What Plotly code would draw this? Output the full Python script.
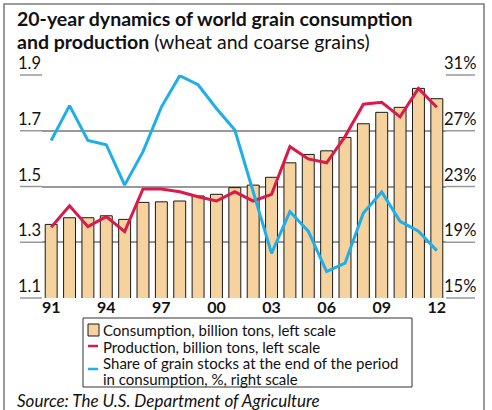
import plotly.graph_objects as go

years = list(range(1991, 2013))
consumption = [1.364, 1.388, 1.388, 1.395, 1.382, 1.443, 1.445, 1.448, 1.466, 1.472, 1.496,
               1.505, 1.533, 1.585, 1.615, 1.628, 1.676, 1.725, 1.766, 1.784, 1.852, 1.815]
production = [1.354, 1.431, 1.356, 1.392, 1.338, 1.491, 1.491, 1.481, 1.463, 1.448, 1.481,
              1.448, 1.472, 1.643, 1.599, 1.585, 1.679, 1.795, 1.802, 1.750, 1.852, 1.784]
stock_share = [26.3, 28.8, 26.3, 26.0, 23.1, 25.5, 28.7, 30.95, 30.3, 28.6, 27.05,
               22.7, 18.2, 21.2, 19.8, 16.9, 17.5, 21.1, 22.6, 20.5, 19.8, 18.4]
x_tickvals = [1991, 1994, 1997, 2000, 2003, 2006, 2009, 2012]
x_ticktext = ["91", "94", "97", "00", "03", "06", "09", "12"]
left_ticks = [1.1, 1.3, 1.5, 1.7, 1.9]
left_text = ["1.1", "1.3", "1.5", "1.7", "1.9"]
right_ticks = [15, 19, 23, 27, 31]
right_text = ["15%", "19%", "23%", "27%", "31%"]
legend_labels = ["Consumption, billion tons, left scale",
                 "Production, billion tons, left scale",
                 "Share of grain stocks at the end of the period",
                 "in consumption, %, right scale"]

W, H = 492, 410
L, R, T, B = 42, 46, 75, 112
pw = W - L - R
ph = H - T - B
Y_RANGE = [1.1, 1.9]

def px(x):
    return (x - L) / pw

def py(y):
    return (H - B - y) / ph

FONT = "Lato"
BAR_COLOR = "#F5D29E"
RED = "#D81B4A"
BLUE = "#1EAEEA"
GRID = "#999999"

fig = go.Figure()
fig.add_trace(go.Bar(
    x=years, y=consumption, name=legend_labels[0],
    marker=dict(color=BAR_COLOR, line=dict(color="#1a1a1a", width=1)),
))
fig.add_trace(go.Scatter(
    x=years, y=production, name=legend_labels[1],
    mode="lines", line=dict(color=RED, width=3),
))
fig.add_trace(go.Scatter(
    x=years, y=stock_share, yaxis="y2", name=legend_labels[2] + " " + legend_labels[3],
    mode="lines", line=dict(color=BLUE, width=3),
))

shapes = []
# gridline extensions outside the plot area, under the tick labels
for v in left_ticks:
    yp = round((v - Y_RANGE[0]) / (Y_RANGE[1] - Y_RANGE[0]), 4)
    for a, b in [(20, L), (W - R, 475)]:
        shapes.append(dict(type="line", xref="paper", yref="paper", x0=px(a), x1=px(b), y0=yp, y1=yp,
                           line=dict(color=GRID, width=1.5), layer="above"))
# outer frame
shapes.append(dict(type="rect", xref="paper", yref="paper", x0=px(4), x1=px(484), y0=py(416), y1=py(4),
                   line=dict(color="#7a7a7a", width=1.5), layer="above"))
# legend box
shapes.append(dict(type="rect", xref="paper", yref="paper", x0=px(83), x1=px(412), y0=py(387), y1=py(318),
                   line=dict(color="#333333", width=1), fillcolor="white", layer="above"))
# legend swatches
shapes.append(dict(type="rect", xref="paper", yref="paper", x0=px(88), x1=px(99), y0=py(336), y1=py(324),
                   line=dict(color="#1a1a1a", width=1), fillcolor=BAR_COLOR, layer="above"))
shapes.append(dict(type="line", xref="paper", yref="paper", x0=px(88), x1=px(98), y0=py(346), y1=py(346),
                   line=dict(color=RED, width=2.5), layer="above"))
shapes.append(dict(type="line", xref="paper", yref="paper", x0=px(88), x1=px(98), y0=py(369), y1=py(369),
                   line=dict(color=BLUE, width=2.5), layer="above"))

annotations = [
    dict(text="<b>20-year dynamics of world grain consumption</b>",
         xref="paper", yref="paper", x=px(15), y=py(19), xanchor="left", yanchor="middle",
         align="left", showarrow=False, font=dict(family=FONT, size=19.5, color="#111")),
    dict(text="<b>and production</b> (wheat and coarse grains)",
         xref="paper", yref="paper", x=px(15), y=py(41.5), xanchor="left", yanchor="middle",
         align="left", showarrow=False, font=dict(family=FONT, size=19.5, color="#111")),
    dict(text="<i>Source: The U.S. Department of Agriculture</i>",
         xref="paper", yref="paper", x=px(15), y=py(400), xanchor="left", yanchor="middle",
         align="left", showarrow=False, font=dict(family=FONT, size=17, color="#111")),
]
legend_y = [330, 346.5, 363, 378.5]
for lbl, yy in zip(legend_labels, legend_y):
    annotations.append(dict(text=lbl, xref="paper", yref="paper", x=px(101), y=py(yy),
                            xanchor="left", yanchor="middle", align="left", showarrow=False,
                            font=dict(family=FONT, size=15, color="#111")))

fig.update_layout(
    width=W, height=H,
    margin=dict(l=L, r=R, t=T, b=B, autoexpand=False),
    paper_bgcolor="white", plot_bgcolor="white",
    font=dict(family=FONT, color="#111"),
    bargap=0.35,
    showlegend=False,
    xaxis=dict(range=[1990.5, 2012.5], tickvals=x_tickvals, ticktext=x_ticktext,
               tickfont=dict(family=FONT, size=16, color="#111", weight="bold"),
               showgrid=False, zeroline=False, showline=False, ticks="", automargin=False,
               ticklabelstandoff=-2),
    yaxis=dict(range=Y_RANGE, tickvals=left_ticks, ticktext=left_text,
               tickfont=dict(family=FONT, size=16.5, color="#111"),
               showgrid=True, gridcolor=GRID, gridwidth=1.5,
               zeroline=False, showline=False, ticks="", automargin=False,
               ticklabelposition="outside top", ticklabelstandoff=0),
    yaxis2=dict(range=[15, 31], tickvals=right_ticks, ticktext=right_text, overlaying="y", side="right",
                tickfont=dict(family=FONT, size=16.5, color="#111"), automargin=False,
                showgrid=False, zeroline=False, showline=False, ticks="",
                ticklabelposition="outside top", ticklabelstandoff=-3),
    shapes=shapes,
    annotations=annotations,
)

fig.write_html("out.html", config={"displayModeBar": False},
               post_script="document.body.style.margin='0';")
